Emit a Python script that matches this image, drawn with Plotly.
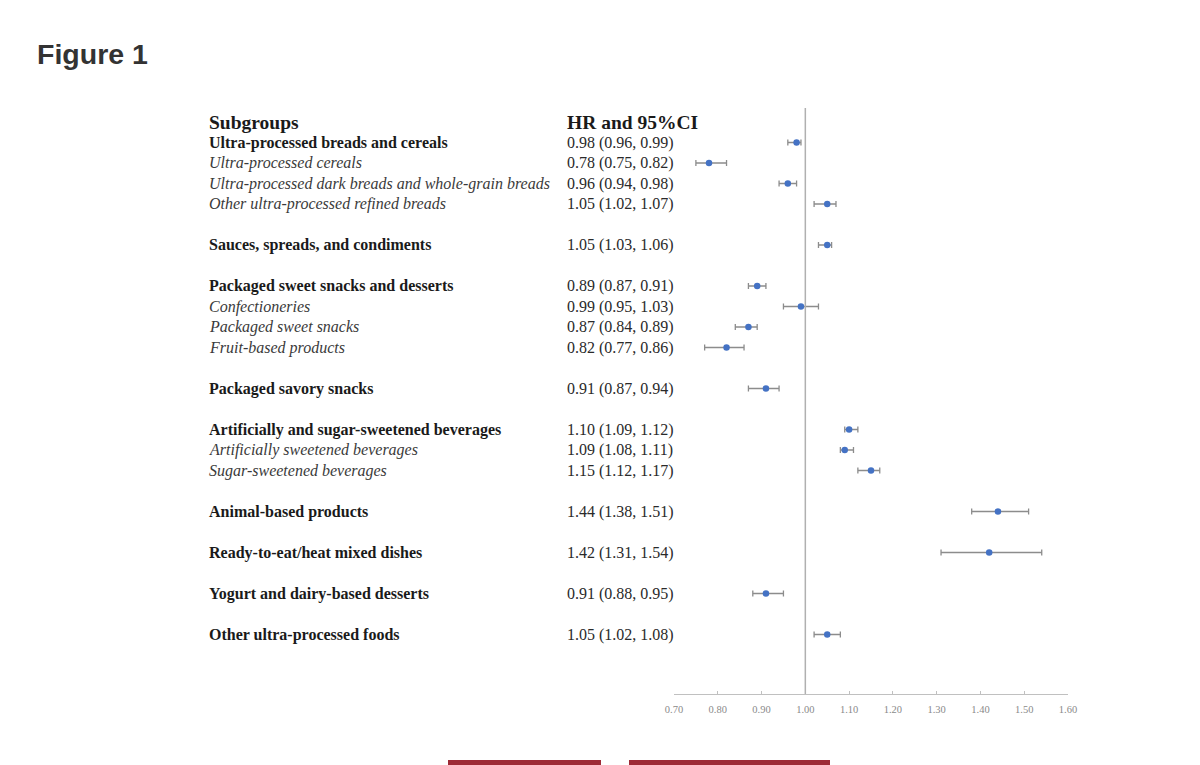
import plotly.graph_objects as go

# ---- data ----
labels = [
    "Ultra-processed breads and cereals",
    "Ultra-processed cereals",
    "Ultra-processed dark breads and whole-grain breads",
    "Other ultra-processed refined breads",
    "Sauces, spreads, and condiments",
    "Packaged sweet snacks and desserts",
    "Confectioneries",
    "Packaged sweet snacks",
    "Fruit-based products",
    "Packaged savory snacks",
    "Artificially and sugar-sweetened beverages",
    "Artificially sweetened beverages",
    "Sugar-sweetened beverages",
    "Animal-based products",
    "Ready-to-eat/heat mixed dishes",
    "Yogurt and dairy-based desserts",
    "Other ultra-processed foods",
]
is_subgroup = [False, True, True, True, False, False, True, True, True,
               False, False, True, True, False, False, False, False]
hr = [0.98, 0.78, 0.96, 1.05, 1.05, 0.89, 0.99, 0.87, 0.82, 0.91,
      1.10, 1.09, 1.15, 1.44, 1.42, 0.91, 1.05]
ci_low = [0.96, 0.75, 0.94, 1.02, 1.03, 0.87, 0.95, 0.84, 0.77, 0.87,
          1.09, 1.08, 1.12, 1.38, 1.31, 0.88, 1.02]
ci_high = [0.99, 0.82, 0.98, 1.07, 1.06, 0.91, 1.03, 0.89, 0.86, 0.94,
           1.12, 1.11, 1.17, 1.51, 1.54, 0.95, 1.08]
tick_vals = [0.70, 0.80, 0.90, 1.00, 1.10, 1.20, 1.30, 1.40, 1.50, 1.60]
header_left = "Subgroups"
header_right = "HR and 95%CI"
title_text = "Figure 1"

# ---- row positions (blank row between groups) ----
ypos = []
pos = 0
for i, sub in enumerate(is_subgroup):
    if i == 0:
        pos = 1
    elif sub:
        pos += 1
    else:
        pos += 2
    ypos.append(pos)

ci_text = [f"{h:.2f} ({l:.2f}, {u:.2f})" for h, l, u in zip(hr, ci_low, ci_high)]

# ---- geometry (pixels, page offset of 8px removed) ----
OFF = 8
W, H = 1200, 765
L_PX, R_PX = 674 - OFF, 1068 - OFF
T_PX, B_PX = 108 - OFF, 694 - OFF
ROW0_PX, ROW_PX = 122 - OFF, 20.5
y_top = (T_PX - ROW0_PX) / ROW_PX
y_bot = (B_PX - ROW0_PX) / ROW_PX

fig = go.Figure()
fig.add_trace(go.Scatter(
    x=hr, y=ypos, mode="markers",
    marker=dict(color="#4472C4", size=6.5),
    error_x=dict(type="data", symmetric=False,
                 array=[u - h for h, u in zip(hr, ci_high)],
                 arrayminus=[h - l for h, l in zip(hr, ci_low)],
                 color="#8c8c8c", thickness=1.3, width=3),
    hoverinfo="skip", showlegend=False,
))

serif = "Liberation Serif"
fs = 16
ann = []
lab_x = 207 - OFF - L_PX
ci_x = 565 - OFF - L_PX
for txt in (header_left, header_right):
    ann.append(dict(x=0, xref="paper", xshift=lab_x if txt == header_left else ci_x,
                    y=0, yref="y", xanchor="left", yanchor="middle",
                    text=f"<b>{txt}</b>", showarrow=False,
                    font=dict(family=serif, size=19.5, color="#1a1a1a")))
for lab, sub, yp, ct in zip(labels, is_subgroup, ypos, ci_text):
    txt = f"<i>{lab}</i>" if sub else f"<b>{lab}</b>"
    col = "#3a3a3a" if sub else "#1a1a1a"
    ann.append(dict(x=0, xref="paper", xshift=lab_x, y=yp, yref="y", xanchor="left",
                    yanchor="middle", text=txt, showarrow=False,
                    font=dict(family=serif, size=fs, color=col)))
    ann.append(dict(x=0, xref="paper", xshift=ci_x, y=yp, yref="y", xanchor="left",
                    yanchor="middle", text=ct, showarrow=False,
                    font=dict(family=serif, size=fs, color="#2a2a2a")))

pw = R_PX - L_PX
ph = B_PX - T_PX
def px_x(p):
    return (p - OFF - L_PX) / pw
def px_y(p):
    return (B_PX - (p - OFF)) / ph

shapes = [
    dict(type="line", xref="x", yref="paper", x0=1.0, x1=1.0, y0=0, y1=1,
         line=dict(color="#b0b0b0", width=1.5)),
    dict(type="rect", xref="paper", yref="paper", x0=px_x(448), x1=px_x(601),
         y0=px_y(766), y1=px_y(760), fillcolor="#9d2a36", line=dict(width=0)),
    dict(type="rect", xref="paper", yref="paper", x0=px_x(629), x1=px_x(830),
         y0=px_y(766), y1=px_y(760), fillcolor="#9d2a36", line=dict(width=0)),
]

fig.update_layout(
    width=W, height=H,
    margin=dict(l=L_PX, r=W - R_PX, t=T_PX, b=H - B_PX, pad=0),
    paper_bgcolor="white", plot_bgcolor="white",
    title=dict(text=f"<b>{title_text}</b>", x=(37 - OFF) / W, xref="container",
               xanchor="left", y=1 - (54 - OFF) / H, yref="container", yanchor="middle",
               font=dict(family="Liberation Sans", size=28.5, color="#333333")),
    xaxis=dict(range=[0.70, 1.60], tickvals=tick_vals,
               ticktext=[f"{v:.2f}" for v in tick_vals],
               showgrid=False, zeroline=False, showline=True, linecolor="#c0c0c0",
               linewidth=1.2, ticks="inside", ticklen=3, tickcolor="#c0c0c0",
               ticklabelstandoff=5,
               tickfont=dict(family=serif, size=10.5, color="#8a8a8a")),
    yaxis=dict(range=[y_bot, y_top], visible=False, showgrid=False, zeroline=False),
    annotations=ann, shapes=shapes,
)

fig.write_html("out.html")
